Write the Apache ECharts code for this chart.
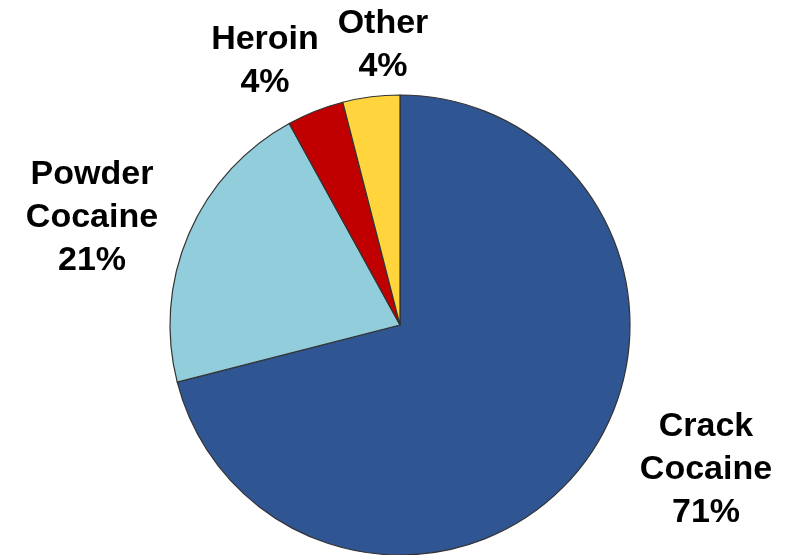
<!DOCTYPE html>
<html>
<head>
<meta charset="utf-8">
<script src="https://cdn.jsdelivr.net/npm/echarts@6/dist/echarts.min.js"></script>
<style>html,body{margin:0;padding:0;background:#fff;}#c{width:790px;height:555px;}</style>
</head>
<body>
<div id="c"></div>
<script>
const categories = ['Crack\nCocaine', 'Powder\nCocaine', 'Heroin', 'Other'];
const values = [71, 21, 4, 4];
const colors = ['#2F5592', '#92CDDC', '#C00000', '#FFD43D'];
const labelPos = [[706, 470], [92, 218], [265, 61], [383, 45]];

const chart = echarts.init(document.getElementById('c'));
chart.setOption({
  animation: false,
  series: [{
    type: 'pie',
    center: [400, 325],
    radius: 230,
    startAngle: 90,
    clockwise: true,
    data: categories.map((n, i) => ({ name: n, value: values[i], itemStyle: { color: colors[i] } })),
    itemStyle: { borderColor: '#333', borderWidth: 1.2 },
    label: {
      show: true,
      position: 'outside',
      overflow: 'none',
      formatter: p => p.name + '\n' + p.value + '%',
      fontFamily: 'Liberation Sans, Arial, sans-serif',
      fontWeight: 'bold',
      fontSize: 34,
      lineHeight: 43,
      color: '#000',
      align: 'center'
    },
    labelLine: { show: false },
    labelLayout: function (params) {
      const p = labelPos[params.dataIndex];
      return { x: p[0], y: p[1], align: 'center', verticalAlign: 'middle' };
    }
  }]
});
</script>
</body>
</html>
